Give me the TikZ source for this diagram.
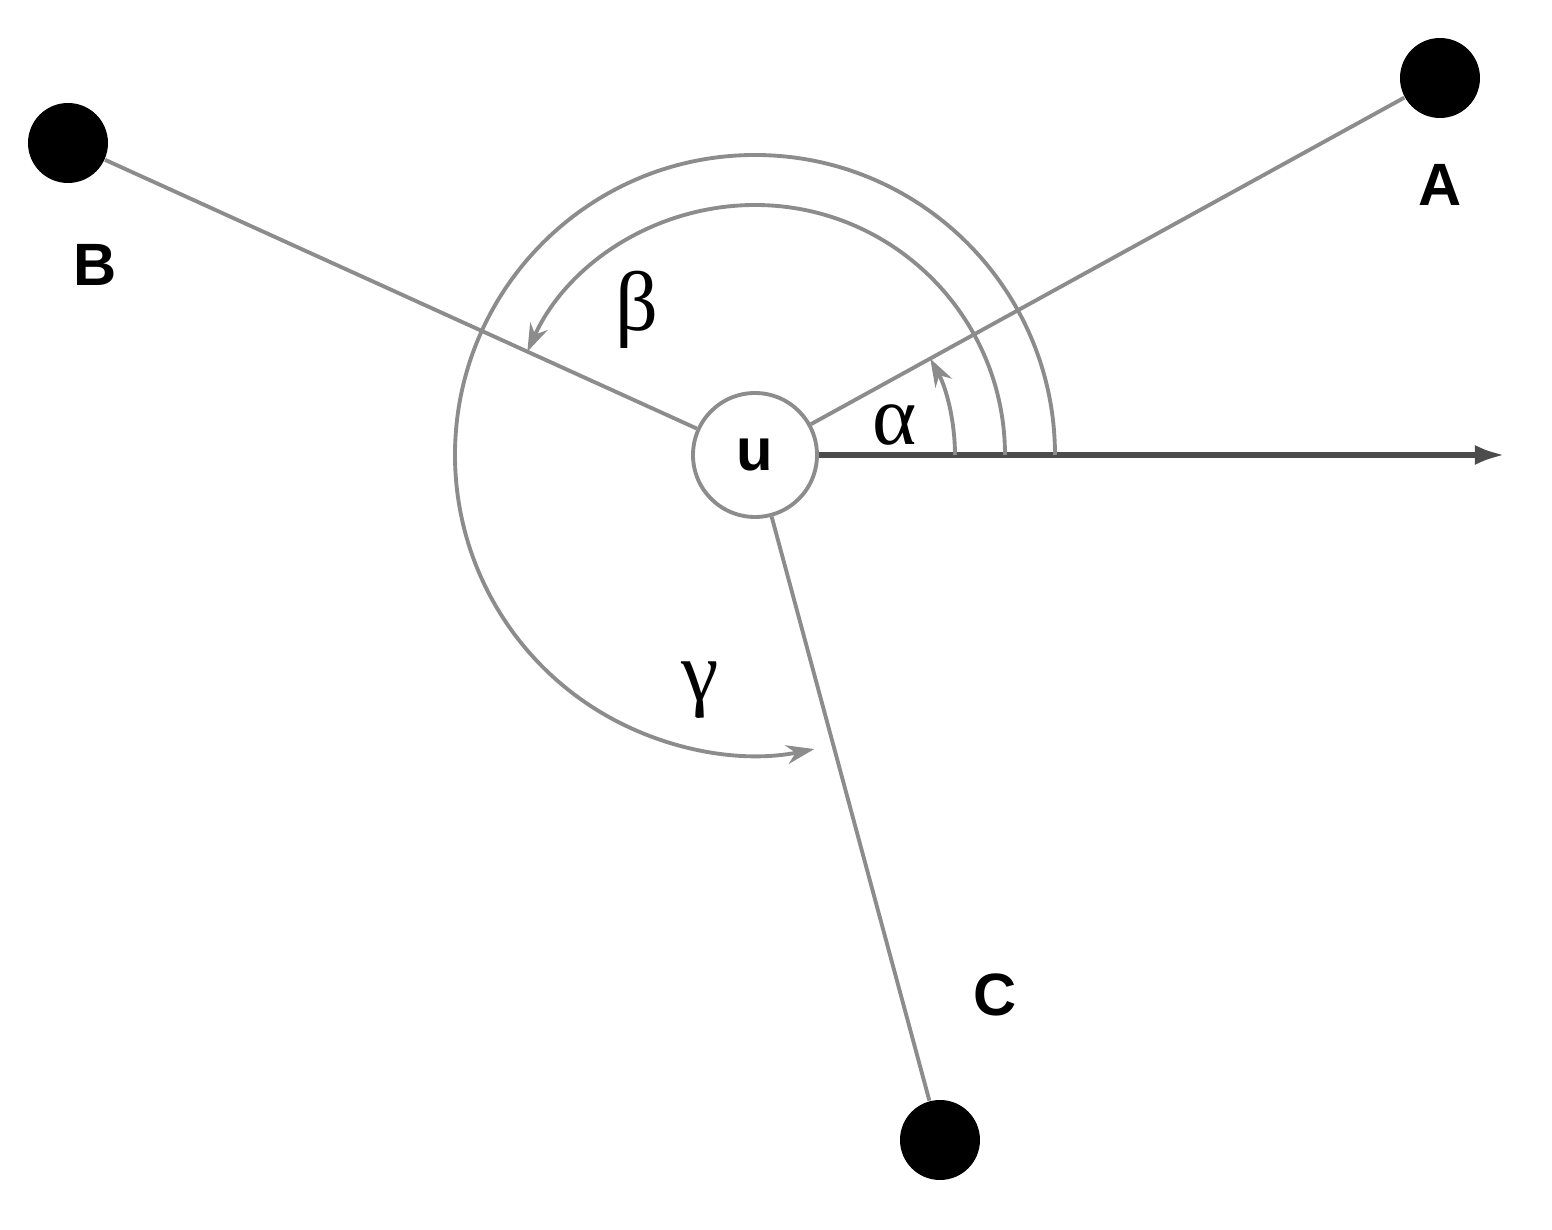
\documentclass[tikz,border=0pt]{standalone}
\usepackage{fontspec}
\setsansfont{Liberation Sans}
\newfontfamily\greekfont{Liberation Serif}
\usetikzlibrary{arrows.meta,positioning,calc}
\tikzset{
  >={Stealth[length=2.8mm,width=1.9mm]},
  line/.style={line width=1.1pt,draw=black!45},
  axis/.style={line width=1.6pt,draw=black!70},
  angle/.style={line width=1.1pt,draw=black!45},
  label/.style={font=\sffamily\bfseries\fontsize{17}{20}\selectfont},
  greek/.style={font=\greekfont\fontsize{24}{26}\selectfont},
  dot/.style={circle,fill=black,inner sep=0pt,minimum size=8mm},
  centre/.style={draw=black!45,circle,fill=white,inner sep=0pt,minimum size=12.4mm,line width=1.1pt}
}

\begin{document}
\begin{tikzpicture}
  \useasboundingbox (-7.55,-7.75) rectangle (7.97,4.55);

  % Centre and neighbours
  \node[centre,label] (u) at (0,0) {u};
  \node[dot] (A) at (6.85,3.77) {};
  \node[dot] (B) at (-6.87,3.12) {};
  \node[dot] (C) at (1.85,-6.85) {};
  \coordinate (ax) at (7.5,0);

  \node[label] at (6.85,2.70) {A};
  \node[label] at (-6.60,1.90) {B};
  \node[label] at (2.40,-5.40) {C};

  % Edges and reference axis
  \draw[line] (u) -- (A);
  \draw[line] (u) -- (B);
  \draw[line] (u) -- (C);
  \draw[axis,-{Latex[length=3mm,width=2mm]}] (u) -- (ax);

  % Angles
  \draw[angle,->] (2.0,0) arc[start angle=0,end angle=28.8,radius=2.0];
  \draw[angle,->] (2.5,0) arc[start angle=0,end angle=155.6,radius=2.5];
  \draw[angle,->] (3.0,0) arc[start angle=0,end angle=281.4,radius=3.0];

  \node[greek] at (1.40,0.30) {α};
  \node[greek] at (-1.18,1.45) {β};
  \node[greek] at (-0.55,-2.35) {γ};
\end{tikzpicture}
\end{document}
